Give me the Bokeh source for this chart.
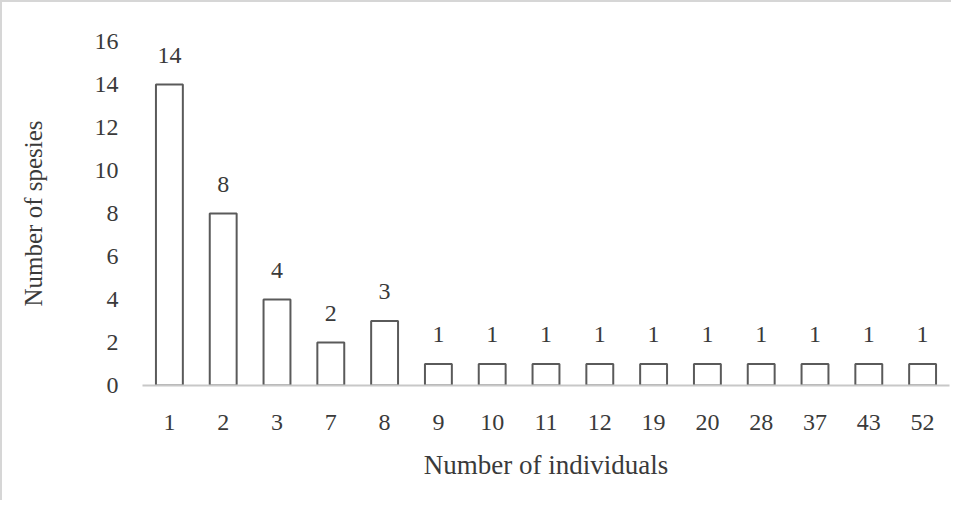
from bokeh.plotting import figure
from bokeh.models import ColumnDataSource, FactorRange, Range1d, LabelSet, SingleIntervalTicker
from bokeh.embed import file_html
from bokeh.resources import INLINE

individuals = ["1", "2", "3", "7", "8", "9", "10", "11", "12", "19", "20", "28", "37", "43", "52"]
species = [14, 8, 4, 2, 3, 1, 1, 1, 1, 1, 1, 1, 1, 1, 1]
labels = [str(v) for v in species]

src = ColumnDataSource(dict(x=individuals, top=species, lab=labels))

FONT = "Liberation Serif"
TXT = "#3a3a3a"

p = figure(width=951, height=500, x_range=FactorRange(*individuals, range_padding=0),
           y_range=Range1d(0, 16), output_backend="svg", toolbar_location=None,
           min_border_left=140, min_border_right=4, min_border_top=39, min_border_bottom=117)
p.styles = {"border-top": "2px solid #d6d6d6", "border-left": "2px solid #d6d6d6"}
p.outline_line_color = None
p.xgrid.grid_line_color = None
p.ygrid.grid_line_color = None

p.vbar(x="x", top="top", width=0.5, source=src, fill_color="white",
       line_color="#5a5a5a", line_width=2)

p.add_layout(LabelSet(x="x", y="top", text="lab", source=src, text_align="center",
                      text_baseline="bottom", y_offset=22, text_font=FONT,
                      text_font_size="24px", text_color=TXT))

p.yaxis.ticker = SingleIntervalTicker(interval=2)
p.yaxis.axis_line_color = None
p.yaxis.major_tick_line_color = None
p.yaxis.minor_tick_line_color = None
p.yaxis.major_label_standoff = 18
p.yaxis.axis_label = "Number of spesies"
p.yaxis.axis_label_standoff = 45

p.xaxis.axis_line_color = "#c8c8c8"
p.xaxis.axis_line_width = 2
p.xaxis.major_tick_line_color = None
p.xaxis.minor_tick_line_color = None
p.xaxis.major_label_standoff = 23
p.xaxis.axis_label = "Number of individuals"
p.xaxis.axis_label_standoff = 17

for ax in (p.xaxis, p.yaxis):
    ax.major_label_text_font = FONT
    ax.major_label_text_font_size = "24px"
    ax.major_label_text_color = TXT
    ax.axis_label_text_font = FONT
    ax.axis_label_text_font_style = "normal"
    ax.axis_label_text_color = TXT
p.xaxis.axis_label_text_font_size = "27px"
p.yaxis.axis_label_text_font_size = "25px"

open("out.html", "w").write(file_html(p, INLINE))
